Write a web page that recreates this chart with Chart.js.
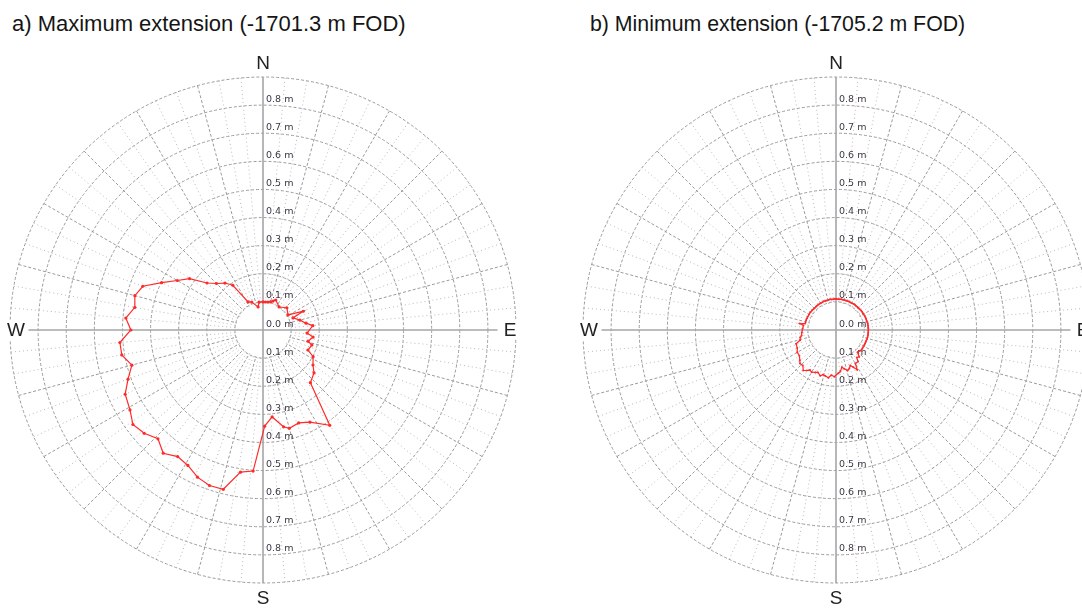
<!DOCTYPE html>
<html>
<head>
<meta charset="utf-8">
<script src="https://cdn.jsdelivr.net/npm/chart.js@4.4.1/dist/chart.umd.min.js"></script>
<style>
  html, body { margin: 0; padding: 0; background: #fff; width: 1082px; height: 608px; overflow: hidden; position: relative;
    font-family: "Liberation Sans", Arial, sans-serif; }
  .title { position: absolute; color: #151515; white-space: nowrap; line-height: 1; z-index: 2; }
  #ta { left: 12px; top: 13px; font-size: 22px; }
  #tb { left: 590px; top: 14px; font-size: 21.3px; }
  canvas { position: absolute; }
  #ca { left: -17px; top: 40px; }
  #cb { left: 556px; top: 40px; }
</style>
</head>
<body>
<div class="title" id="ta">a) Maximum extension (-1701.3 m FOD)</div>
<div class="title" id="tb">b) Minimum extension (-1705.2 m FOD)</div>
<canvas id="ca" width="560" height="580"></canvas>
<canvas id="cb" width="560" height="580"></canvas>
<script>
// Bearings (degrees clockwise from north) and radial extension in metres.
const maxAngles = [0, 5, 10, 15, 19, 23, 35, 47, 59, 65, 68, 75, 81, 85, 94, 98, 104, 107, 114, 118,
  125, 130, 138, 145, 153, 159, 165, 168, 174, 179, 184, 189, 194, 199, 204, 209, 214, 219, 224, 229,
  234, 239, 245, 250, 255, 260, 265, 270, 275, 280, 285, 290, 295, 300, 305, 310, 315, 321, 326, 332,
  338, 348, 352];
const maxValues = [0.100, 0.100, 0.101, 0.104, 0.109, 0.116, 0.100, 0.116, 0.104, 0.158, 0.115, 0.136, 0.155, 0.178, 0.157, 0.180, 0.165, 0.182, 0.175, 0.202,
  0.217, 0.237, 0.252, 0.414, 0.368, 0.354, 0.362, 0.352, 0.311, 0.342, 0.503, 0.512, 0.584, 0.585, 0.573, 0.551, 0.543, 0.564, 0.538, 0.560,
  0.572, 0.552, 0.541, 0.511, 0.483, 0.510, 0.511, 0.470, 0.490, 0.463, 0.472, 0.455, 0.398, 0.352, 0.319, 0.260, 0.234, 0.215, 0.192, 0.113,
  0.107, 0.084, 0.100];

const minAngles = [1, 4, 7, 10, 13, 16, 19, 22, 25, 28, 31, 34, 37, 40, 43, 46, 49, 52, 55, 58,
  61, 64, 67, 70, 73, 76, 79, 82, 85, 88, 91, 94, 97, 100, 103, 106, 109, 112, 115, 118,
  121, 124, 127, 131, 136, 139, 143, 145, 150, 152, 155, 158, 161, 164, 168, 171, 174, 177, 182, 186,
  189, 193, 196, 199, 203, 206, 210, 213, 216, 219, 223, 227, 230, 235, 240, 245, 251, 254, 258, 261,
  266, 272, 278, 280, 282, 288, 292, 295, 300, 304, 307, 310, 313, 316, 319, 322, 325, 328, 331, 334,
  337, 340, 343, 346, 349, 352, 355, 358];
const minValues = [0.110, 0.110, 0.110, 0.111, 0.110, 0.111, 0.110, 0.111, 0.111, 0.111, 0.111, 0.112, 0.112, 0.111, 0.112, 0.112, 0.112, 0.113, 0.113, 0.113,
  0.113, 0.114, 0.114, 0.114, 0.114, 0.115, 0.115, 0.115, 0.115, 0.115, 0.115, 0.115, 0.115, 0.115, 0.115, 0.115, 0.114, 0.114, 0.114, 0.114,
  0.114, 0.114, 0.115, 0.113, 0.110, 0.126, 0.123, 0.137, 0.138, 0.160, 0.146, 0.136, 0.145, 0.150, 0.141, 0.134, 0.148, 0.154, 0.166, 0.162,
  0.172, 0.168, 0.165, 0.172, 0.164, 0.168, 0.173, 0.170, 0.178, 0.185, 0.173, 0.175, 0.168, 0.159, 0.159, 0.152, 0.150, 0.133, 0.130, 0.124,
  0.122, 0.119, 0.117, 0.131, 0.112, 0.112, 0.111, 0.111, 0.111, 0.111, 0.110, 0.110, 0.109, 0.109, 0.109, 0.110, 0.110, 0.110, 0.110, 0.110,
  0.111, 0.110, 0.110, 0.110, 0.111, 0.110, 0.110, 0.111];

// Distance rings (m) and compass points.
const ringValues = [0.0, 0.1, 0.2, 0.3, 0.4, 0.5, 0.6, 0.7, 0.8];
const compassLabels = ['N', 'E', 'S', 'W'];

const bearings = Array.from({ length: 360 }, (_, i) => i);

function toSeries(angles, values) {
  const s = new Array(360).fill(null);
  angles.forEach((a, i) => { s[a % 360] = values[i]; });
  return s;
}

const polarDecor = {
  id: 'polarDecor',
  beforeDatasetsDraw(chart) {
    const s = chart.scales.r;
    const ctx = chart.ctx;
    const cx = s.xCenter, cy = s.yCenter;
    const rIn = s.getDistanceFromCenterForValue(0.1);
    const rMax = s.getDistanceFromCenterForValue(0.9);
    ctx.save();
    // keep the core inside the first ring free of spokes
    ctx.fillStyle = '#fff';
    ctx.beginPath();
    ctx.arc(cx, cy, rIn - 0.9, 0, Math.PI * 2);
    ctx.fill();
    // N-S and E-W axes
    ctx.strokeStyle = '#a6a6a6';
    ctx.lineWidth = 1.6;
    ctx.beginPath();
    ctx.moveTo(cx, cy - rMax); ctx.lineTo(cx, cy + rMax);
    ctx.moveTo(cx - rMax, cy); ctx.lineTo(cx + rMax, cy);
    ctx.stroke();
    // distance labels along the north and south axes
    ctx.font = '9.5px "DejaVu Sans", sans-serif';
    ctx.fillStyle = '#3e3646';
    ctx.textAlign = 'left';
    ctx.textBaseline = 'alphabetic';
    ringValues.forEach(v => {
      const d = s.getDistanceFromCenterForValue(v);
      const txt = v.toFixed(1) + ' m';
      ctx.fillText(txt, cx + 3, cy - d - 3.5);
      if (v > 0) ctx.fillText(txt, cx + 3, cy + d - 3.5);
    });
    ctx.restore();
  },
  afterDraw(chart) {
    const s = chart.scales.r;
    const ctx = chart.ctx;
    const cx = s.xCenter, cy = s.yCenter;
    ctx.save();
    ctx.font = '19px "Liberation Sans", Arial, sans-serif';
    ctx.textAlign = 'center';
    ctx.textBaseline = 'middle';
    const pos = {
      N: [cx, cy - 267],
      E: [cx + 247, cy],
      S: [cx, cy + 268],
      W: [cx - 247, cy]
    };
    compassLabels.forEach(l => {
      const [x, y] = pos[l];
      if (l === 'E' || l === 'W') {
        ctx.fillStyle = '#fff';
        ctx.fillRect(x - 12.5, y - 10, 25, 20);
      }
      ctx.fillStyle = '#222';
      ctx.fillText(l, x, y + 1);
    });
    ctx.restore();
  }
};

function makePolar(id, angles, values, pointRadius) {
  return new Chart(document.getElementById(id), {
    type: 'radar',
    data: {
      labels: bearings,
      datasets: [{
        data: toSeries(angles, values),
        borderColor: '#ff2b2b',
        borderWidth: 1.2,
        pointRadius: pointRadius,
        pointBackgroundColor: '#ff2b2b',
        pointBorderWidth: 0,
        fill: false,
        spanGaps: true,
        tension: 0
      }]
    },
    options: {
      responsive: false,
      animation: false,
      events: [],
      layout: { padding: { left: 27, right: 27, top: 37, bottom: 37 } },
      plugins: { legend: { display: false }, tooltip: { enabled: false } },
      scales: {
        r: {
          min: 0,
          max: 0.9,
          ticks: { stepSize: 0.1, display: false },
          pointLabels: { display: false },
          grid: { circular: true, color: '#9a9a9a', lineWidth: 1 },
          border: { dash: [3, 2] },
          angleLines: {
            display: true,
            color: c => (c.index % 15 === 0 ? '#9a9a9a' : '#b8b8b8'),
            lineWidth: c => (c.index % 5 === 0 && c.index % 90 !== 0 ? 1 : 0),
            borderDash: c => (c.index % 15 === 0 ? [3, 2] : [1, 3])
          }
        }
      }
    },
    plugins: [polarDecor]
  });
}

makePolar('ca', maxAngles, maxValues, 1.6);
makePolar('cb', minAngles, minValues, 1.0);
</script>
</body>
</html>
